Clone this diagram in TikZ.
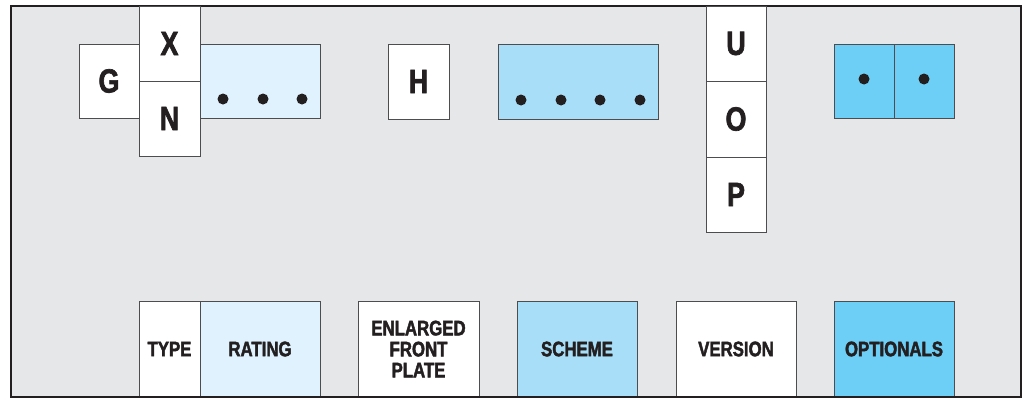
\documentclass[tikz,border=0pt]{standalone}
\usepackage{fontspec}
\setmainfont[FakeStretch=0.8, BoldFeatures={FakeBold=2}]{Liberation Sans}
\definecolor{bggray}{HTML}{E6E7E8}
\definecolor{lblue}{HTML}{DFF2FD}
\definecolor{mblue}{HTML}{A8DEF8}
\definecolor{dblue}{HTML}{6DCFF6}
\definecolor{ink}{HTML}{231F20}
\definecolor{edge}{HTML}{4D4D4F}
\tikzset{
  cell/.style={draw=edge, line width=1pt, rectangle, inner sep=0pt, outer sep=0pt, text=ink},
  bigtxt/.style={font=\bfseries\fontsize{33.5}{33.5}\selectfont},
  lbltxt/.style={font=\bfseries\fontsize{21}{21}\selectfont, align=center},
  dot/.style={circle, fill=ink, inner sep=0pt, minimum size=11pt}
}
\begin{document}
\begin{tikzpicture}[x=1pt,y=-1pt]
\useasboundingbox (0,0) rectangle (1023,399);
\draw[fill=bggray, draw=ink, line width=1.2pt] (11,6) rectangle (1021,397);
% top row
\node[cell, fill=white, bigtxt, minimum width=60pt, minimum height=74pt] (G) at (109,81) {G};
\node[cell, fill=white, bigtxt, minimum width=61pt, minimum height=75pt] (X) at (169.5,43.5) {X};
\node[cell, fill=white, bigtxt, minimum width=61pt, minimum height=75pt] (N) at (169.5,118.5) {N};
\node[cell, fill=lblue, minimum width=120pt, minimum height=74pt] (R1) at (260,81) {};
\node[cell, fill=white, bigtxt, minimum width=61pt, minimum height=75pt] (H) at (418.5,81.5) {H};
\node[cell, fill=mblue, minimum width=160pt, minimum height=75pt] (S1) at (578,81.5) {};
\node[cell, fill=white, bigtxt, minimum width=60pt, minimum height=75pt] (U) at (736,43.5) {U};
\node[cell, fill=white, bigtxt, minimum width=60pt, minimum height=76pt] (O) at (736,119) {O};
\node[cell, fill=white, bigtxt, minimum width=60pt, minimum height=75pt] (P) at (736,194.5) {P};
\node[cell, fill=dblue, minimum width=60pt, minimum height=74pt] (O1) at (864,81) {};
\node[cell, fill=dblue, minimum width=60pt, minimum height=74pt] (O2) at (924,81) {};
% dots
\node[dot] (d1) at (223,99) {};
\node[dot] (d2) at (263,99) {};
\node[dot] (d3) at (302,99) {};
\node[dot] (e1) at (521,100) {};
\node[dot] (e2) at (561,100) {};
\node[dot] (e3) at (600,100) {};
\node[dot] (e4) at (640,100) {};
\node[dot] (f1) at (864,79) {};
\node[dot] (f2) at (924,79) {};
% bottom row
\node[cell, fill=white, lbltxt, minimum width=61pt, minimum height=96pt] (type) at (169.5,349) {TYPE};
\node[cell, fill=lblue, lbltxt, minimum width=120pt, minimum height=96pt] (rating) at (260,349) {RATING};
\node[cell, fill=white, lbltxt, minimum width=121pt, minimum height=96pt] (enl) at (418.5,349) {ENLARGED\\FRONT\\PLATE};
\node[cell, fill=mblue, lbltxt, minimum width=120pt, minimum height=96pt] (scheme) at (577,349) {SCHEME};
\node[cell, fill=white, lbltxt, minimum width=120pt, minimum height=96pt] (version) at (736,349) {VERSION};
\node[cell, fill=dblue, lbltxt, minimum width=120pt, minimum height=96pt] (opt) at (894,349) {OPTIONALS};
\draw[draw=ink, line width=1.2pt] (11,397) -- (1021,397);
\end{tikzpicture}
\end{document}
